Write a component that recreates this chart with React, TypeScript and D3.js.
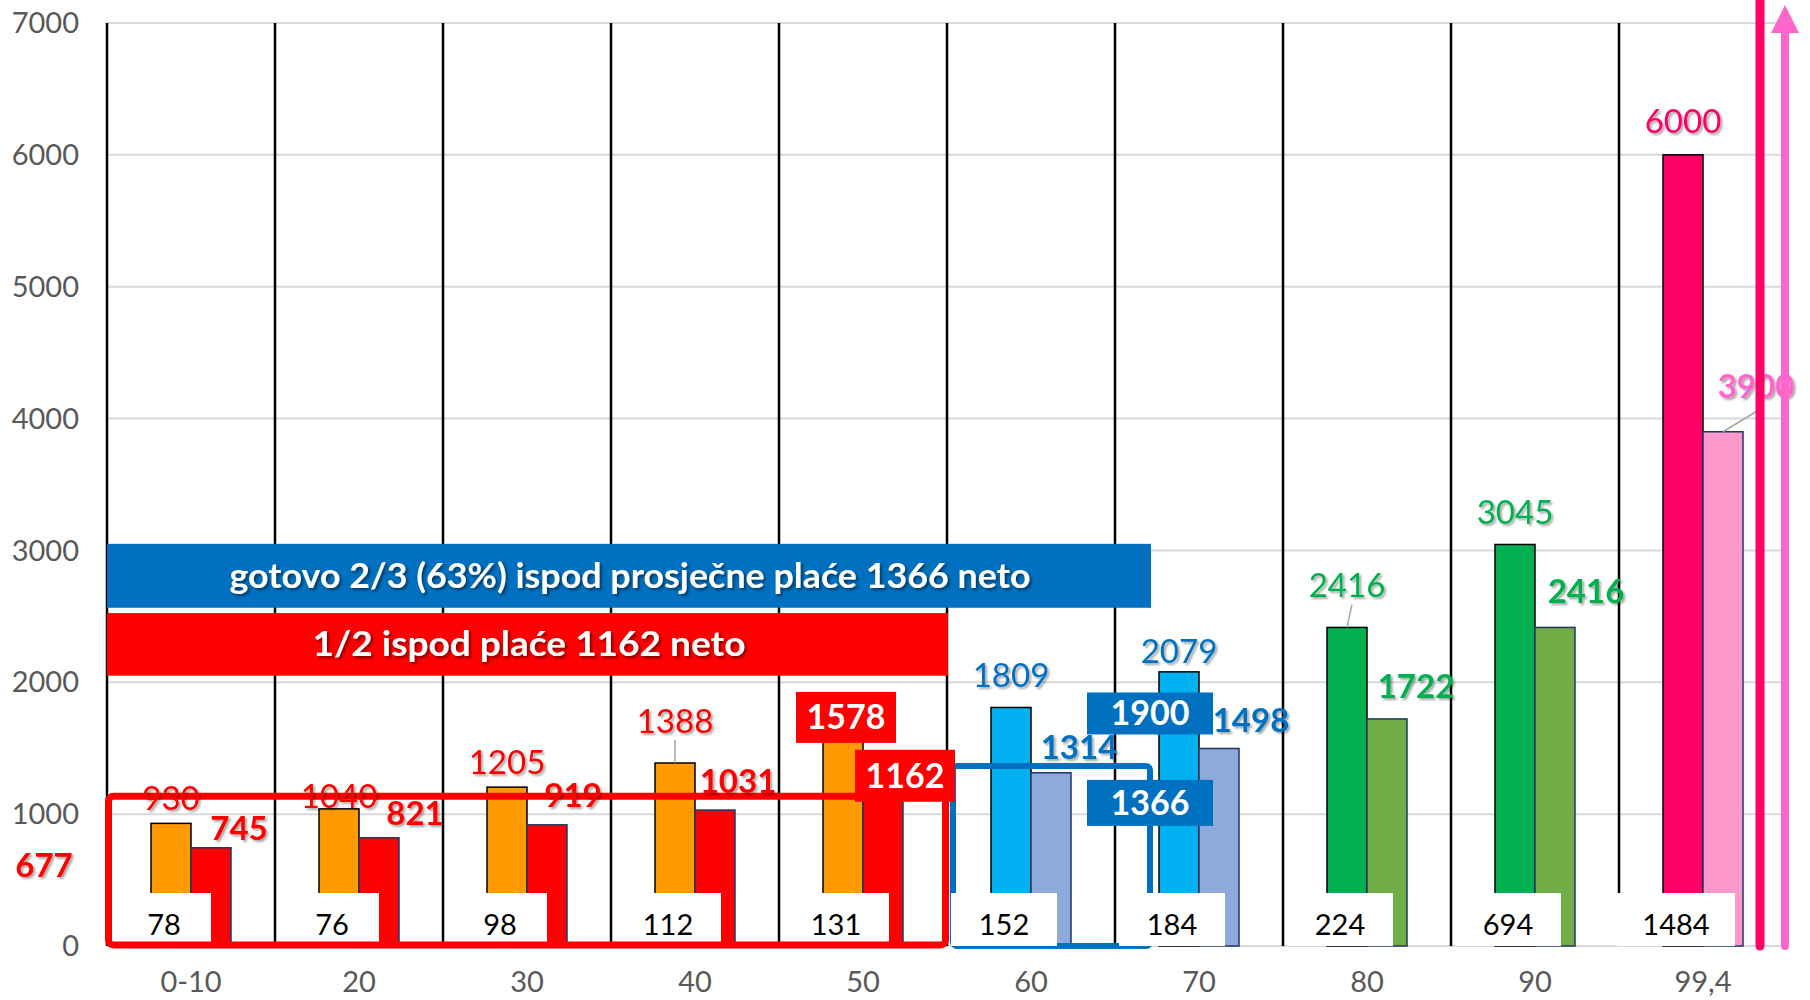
import React from 'react';
import * as d3 from 'd3';

// deciles of net pay
const categories = ['0-10', '20', '30', '40', '50', '60', '70', '80', '90', '99,4'];
const upperPay = [930, 1040, 1205, 1388, 1578, 1809, 2079, 2416, 3045, 6000];
const lowerPay = [745, 821, 919, 1031, 1162, 1314, 1498, 1722, 2416, 3900];
const baseCounts = ['78', '76', '98', '112', '131', '152', '184', '224', '694', '1484'];
const yTicks = [0, 1000, 2000, 3000, 4000, 5000, 6000, 7000];

// colour group for each decile: 0 red/orange, 1 blue, 2 green, 3 pink
const groupOf = [0, 0, 0, 0, 0, 1, 1, 2, 2, 3];
const upperFill = ['#FF9900', '#00B0F0', '#00B050', '#FF0066'];
const lowerFill = ['#FF0000', '#8EA9DB', '#70AD47', '#FF99CC'];
const upperText = ['#FF0000', '#0070C0', '#00B050', '#FF0066'];
const lowerText = ['#FF0000', '#0070C0', '#00B050', '#FF66CC'];

// label nudges (px above bar top / right of bar centre)
const upperLift = [25, 12, 25, 42, 0, 32, 20, 42, 32, 33];
const lowerLift = [19, 24, 29, 29, 0, 25, 28, 32, 36, 45];
const lowerShift = [28, 36, 26, 23, 0, 28, 32, 29, 31, 33];
const leaderUpper = [3, 7];
const boxedIndex = 4;

const medianPay = 1162;
const averagePay = 1366;
const markPay = 1900;
const lowestMark = 677;

const blueBanner = 'gotovo 2/3 (63%) ispod prosječne plaće 1366 neto';
const redBanner = '1/2 ispod plaće 1162 neto';

const FONT = 'Lato, "Open Sans", sans-serif';

export default function App() {
  const W = 1810;
  const H = 1000;

  const x = d3.scaleBand<string>().domain(categories).range([107, 1787]).padding(0);
  const bw = x.bandwidth();
  const sub = d3.scaleBand<string>().domain(['upper', 'lower']).range([bw / 2 - 40, bw / 2 + 40]);
  const y = d3.scaleLinear().domain([0, 7000]).range([946, 23]);

  const barW = sub.bandwidth();
  const upX = (i: number) => (x(categories[i]) as number) + (sub('upper') as number);
  const loX = (i: number) => (x(categories[i]) as number) + (sub('lower') as number);

  const left = x.range()[0];
  const right = x.range()[1];

  const redL = x('0-10') as number;
  const redR = x('60') as number;
  const blueL = (x('60') as number) + 6;
  const blueR = (x('70') as number) + 35;

  return (
    <svg width={W} height={H} style={{ position: 'absolute', left: 0, top: 0, background: '#fff' }}
      fontFamily={FONT}>
      <defs>
        <filter id="sh" x="-20%" y="-20%" width="140%" height="140%">
          <feDropShadow dx="2" dy="2" stdDeviation="1.2" floodColor="#000" floodOpacity="0.35" />
        </filter>
        <filter id="sh2" x="-5%" y="-20%" width="110%" height="140%">
          <feDropShadow dx="2" dy="2" stdDeviation="1.5" floodColor="#000" floodOpacity="0.5" />
        </filter>
      </defs>

      {/* gridlines */}
      {yTicks.map(t => (
        <line key={'g' + t} x1={left} x2={right} y1={y(t)} y2={y(t)} stroke="#D9D9D9" strokeWidth={2} />
      ))}

      {/* y tick labels */}
      {yTicks.map(t => (
        <text key={'yt' + t} x={79} y={y(t)} dy="0.35em" textAnchor="end" fontSize={29} fill="#595959">{t}</text>
      ))}

      {/* category separators */}
      {categories.map(c => (
        <line key={'v' + c} x1={x(c)} x2={x(c)} y1={y(7000)} y2={y(0)} stroke="#000" strokeWidth={2.5} />
      ))}

      {/* bars */}
      {categories.map((c, i) => (
        <g key={'b' + c}>
          <rect x={upX(i)} y={y(upperPay[i])} width={barW} height={y(0) - y(upperPay[i])}
            fill={upperFill[groupOf[i]]} stroke="#000" strokeWidth={1.5} />
          <rect x={loX(i)} y={y(lowerPay[i])} width={barW} height={y(0) - y(lowerPay[i])}
            fill={lowerFill[groupOf[i]]} stroke="#1F3864" strokeWidth={1.5} />
        </g>
      ))}

      {/* average pay outline */}
      <rect x={blueL} y={y(averagePay)} width={blueR - blueL} height={y(0) - y(averagePay)}
        fill="none" stroke="#0070C0" strokeWidth={6} rx={4} />

      {/* white base labels */}
      {categories.map((c, i) => {
        const cx = upX(i) + barW / 2 - 7;
        const w = 12 * baseCounts[i].length + 70;
        return (
          <g key={'bl' + c}>
            <rect x={cx - w / 2} y={y(0) - 53} width={w} height={53} fill="#fff" />
            <text x={cx} y={y(0) - 11} textAnchor="middle" fontSize={29} fill="#000">{baseCounts[i]}</text>
          </g>
        );
      })}

      {/* median pay outline */}
      <rect x={redL + 1.5} y={y(medianPay) + 3.5} width={redR - redL - 3} height={y(0) - y(medianPay) - 4.5}
        fill="none" stroke="#FF0000" strokeWidth={7} rx={5} />

      {/* data labels upper series */}
      {categories.map((c, i) => {
        if (i === boxedIndex) return null;
        const cx = upX(i) + barW / 2;
        const cy = y(upperPay[i]) - upperLift[i];
        const lead = leaderUpper.includes(i);
        return (
          <g key={'lu' + c}>
            {lead && (
              <line x1={cx + (i === 7 ? 5 : 0)} y1={cy + 19} x2={cx} y2={y(upperPay[i])} stroke="#A6A6A6" strokeWidth={1.5} />
            )}
            <text x={cx} y={cy} dy="0.35em" textAnchor="middle" fontSize={33}
              fill={upperText[groupOf[i]]} filter="url(#sh)">{upperPay[i]}</text>
          </g>
        );
      })}

      {/* data labels lower series */}
      {categories.map((c, i) => {
        if (i === boxedIndex) return null;
        const bx = loX(i) + barW / 2;
        const cx = bx + lowerShift[i];
        const cy = y(lowerPay[i]) - lowerLift[i];
        return (
          <g key={'ll' + c}>
            {i === 9 && (
              <line x1={cx} y1={cy + 25} x2={bx} y2={y(lowerPay[i])} stroke="#A6A6A6" strokeWidth={1.5} />
            )}
            <text x={cx} y={cy} dy="0.35em" textAnchor="middle" fontSize={33} fontWeight="bold"
              fill={lowerText[groupOf[i]]} filter="url(#sh)">{lowerPay[i]}</text>
          </g>
        );
      })}

      {/* boxed median-decile labels */}
      {(() => {
        const i = boxedIndex;
        const ux = upX(i) + barW / 2 + 3;
        const lx = loX(i) + barW / 2 + 22;
        const uy = y(upperPay[i]) + 5;
        const ly = y(lowerPay[i]) + 9;
        return (
          <g>
            <rect x={ux - 50} y={uy - 51} width={100} height={51} fill="#FF0000" />
            <text x={ux} y={uy - 25.5} dy="0.35em" textAnchor="middle" fontSize={34} fontWeight="bold" fill="#fff">{upperPay[i]}</text>
            <rect x={lx - 50} y={ly - 52} width={100} height={52} fill="#FF0000" />
            <text x={lx} y={ly - 26} dy="0.35em" textAnchor="middle" fontSize={34} fontWeight="bold" fill="#fff">{lowerPay[i]}</text>
          </g>
        );
      })()}

      {/* blue marker boxes */}
      <rect x={blueR - 63} y={y(markPay) - 3} width={126} height={42} fill="#0070C0" />
      <text x={blueR} y={y(markPay) + 18} dy="0.35em" textAnchor="middle" fontSize={34} fontWeight="bold" fill="#fff">{markPay}</text>
      <rect x={blueR - 63} y={y(averagePay) + 14} width={126} height={46} fill="#0070C0" />
      <text x={blueR} y={y(averagePay) + 37} dy="0.35em" textAnchor="middle" fontSize={34} fontWeight="bold" fill="#fff">{averagePay}</text>

      {/* lowest pay marker */}
      <text x={44} y={y(lowestMark) + 9} dy="0.35em" textAnchor="middle" fontSize={33} fontWeight="bold"
        fill="#FF0000" filter="url(#sh)">{lowestMark}</text>

      {/* banners */}
      <rect x={left} y={y(3050)} width={blueR + 1 - left} height={y(2565) - y(3050)} fill="#0070C0" />
      <text x={630} y={(y(3050) + y(2565)) / 2} dy="0.35em" textAnchor="middle" fontSize={34} fontWeight="bold"
        fill="#fff" textLength={801} lengthAdjust="spacingAndGlyphs" filter="url(#sh2)">{blueBanner}</text>
      <rect x={left} y={y(2525)} width={redR + 1 - left} height={y(2050) - y(2525)} fill="#FF0000" />
      <text x={529} y={(y(2525) + y(2050)) / 2} dy="0.35em" textAnchor="middle" fontSize={34} fontWeight="bold"
        fill="#fff" textLength={433} lengthAdjust="spacingAndGlyphs" filter="url(#sh2)">{redBanner}</text>

      {/* right-hand pink lines */}
      <line x1={1760} x2={1760} y1={0} y2={y(0)} stroke="#FF0066" strokeWidth={9} strokeLinecap="round" />
      <line x1={1785} x2={1785} y1={y(0)} y2={28} stroke="#FF66CC" strokeWidth={8} strokeLinecap="round" />
      <polygon points="1771,33 1799,33 1785,5" fill="#FF66CC" />

      {/* category labels */}
      {categories.map(c => (
        <text key={'c' + c} x={(x(c) as number) + bw / 2} y={992} textAnchor="middle" fontSize={29} fill="#595959">{c}</text>
      ))}
    </svg>
  );
}
